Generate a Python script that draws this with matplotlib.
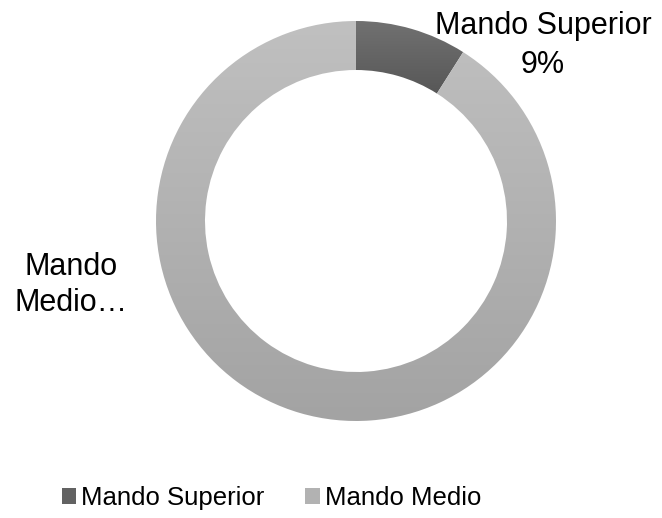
import numpy as np
import matplotlib.pyplot as plt
from matplotlib.colors import LinearSegmentedColormap
from matplotlib.patches import Patch

# Data
categories = ['Mando Superior', 'Mando Medio']
shares = [9, 91]
label_texts = ['Mando Superior\n9%', 'Mando\nMedio…']

# gradient colours (top, bottom) for each slice
top_colors = ['#717171', '#c0c0c0']
bottom_colors = ['#575757', '#a3a3a3']

plt.rcParams['font.family'] = ['Liberation Sans', 'DejaVu Sans']

fig = plt.figure(figsize=(6.62, 5.18), dpi=100)
W, H = 662, 518
# donut centre about (356, 220) px, outer radius 200 px
ax = fig.add_axes([156 / W, (H - 421) / H, 400 / W, 400 / H])

wedges, _ = ax.pie(shares, startangle=90, counterclock=False, radius=1.0,
                   wedgeprops=dict(width=0.245, edgecolor='none'))
ax.axis('off')

# vertical gradient inside each slice
grad = np.linspace(0, 1, 256).reshape(-1, 1)
for w, c_top, c_bot in zip(wedges, top_colors, bottom_colors):
    w.set_facecolor('none')
    ext = w.get_path().get_extents()
    cmap = LinearSegmentedColormap.from_list('g', [c_bot, c_top])
    im = ax.imshow(grad, cmap=cmap, origin='lower', aspect='auto',
                   extent=[ext.x0, ext.x1, ext.y0, ext.y1], zorder=1)
    im.set_clip_path(w)
ax.set_xlim(-1, 1)
ax.set_ylim(-1, 1)

# data labels
fig.text(543 / W, 1 - 11 / H, label_texts[0], ha='center', va='top',
         fontsize=22, linespacing=1.4)
fig.text(71 / W, 1 - 252 / H, label_texts[1], ha='center', va='top',
         fontsize=22, linespacing=1.25)

# legend
handles = [Patch(facecolor=c, edgecolor='none') for c in ['#626262', '#b2b2b2']]
fig.legend(handles, categories, loc='center', bbox_to_anchor=(0.41, 1 - 498 / H),
           ncol=2, frameon=False, fontsize=18.5, handlelength=0.55, handleheight=0.55,
           handletextpad=0.2, columnspacing=1.6)

fig.savefig('out.png', dpi=100)
